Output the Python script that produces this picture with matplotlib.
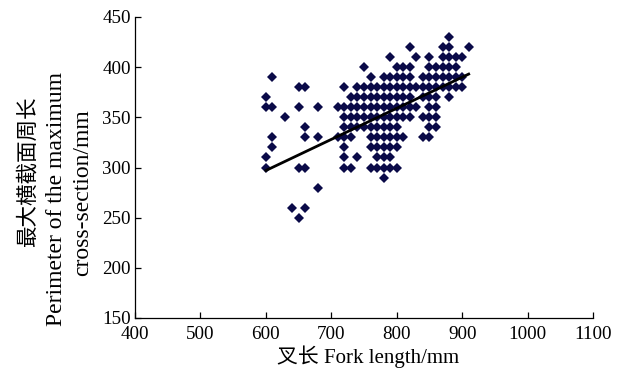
import numpy as np
import matplotlib.pyplot as plt

plt.rcParams['font.family'] = ['Liberation Serif', 'Noto Sans CJK SC']

# perimeter levels (mm) and the fork lengths (mm) observed at each level
perimeter_levels = [430, 420, 410, 400, 390, 380, 370, 360, 350, 340,
                    330, 320, 310, 300, 290, 280, 260, 250]
fork_rows = [
    [880],
    [820, 870, 880, 910],
    [790, 830, 850, 870, 880, 890, 900],
    [750, 800, 810, 820, 850, 860, 870, 880, 890],
    [610, 760, 780, 790, 800, 810, 820, 840, 850, 860, 870, 880, 890, 900],
    [650, 660, 720, 740, 750, 760, 770, 780, 790, 800, 810, 820, 830, 840,
     850, 860, 870, 880, 890, 900],
    [600, 730, 740, 750, 760, 770, 780, 790, 800, 810, 820, 840, 850, 860, 880],
    [600, 610, 650, 680, 710, 720, 730, 740, 750, 760, 770, 780, 790, 800,
     810, 820, 830, 850, 860],
    [630, 720, 730, 740, 750, 760, 770, 780, 790, 800, 810, 820, 840, 850, 860],
    [660, 720, 730, 740, 750, 760, 770, 780, 790, 800, 850, 860],
    [610, 660, 680, 710, 720, 730, 760, 770, 780, 790, 800, 810, 840, 850],
    [610, 720, 760, 770, 780, 790, 800],
    [600, 720, 740, 770, 780, 790],
    [600, 650, 660, 720, 730, 760, 770, 780, 790, 800],
    [780],
    [680],
    [640, 660],
    [650],
]

# fitted line
fit_x = [600, 910]
fit_slope = 0.31
fit_intercept = 111

fork_length = []
perimeter = []
for level, row in zip(perimeter_levels, fork_rows):
    for x in row:
        fork_length.append(x)
        perimeter.append(level)

fig = plt.figure(figsize=(6.3, 3.72), dpi=100)
ax = fig.add_axes([135 / 630, 1 - 318 / 372, 458 / 630, 301 / 372])

ax.plot(fork_length, perimeter, linestyle='none', marker='D', ms=5.6,
        color='#0a0a48', markeredgewidth=0)
fx = np.array(fit_x)
ax.plot(fx, fit_slope * fx + fit_intercept, color='black', lw=2)

ax.set_xlim(400, 1100)
ax.set_ylim(150, 450)
ax.set_xticks(range(400, 1101, 100))
ax.set_yticks(range(150, 451, 50))
ax.spines['top'].set_visible(False)
ax.spines['right'].set_visible(False)
for s in ['left', 'bottom']:
    ax.spines[s].set_linewidth(0.9)
ax.tick_params(direction='in', length=4, width=0.9, labelsize=13.7)
ax.tick_params(axis='x', pad=6)
ax.tick_params(axis='y', pad=3)

fig.text(368 / 630, 1 - 357 / 372, '叉长 Fork length/mm', ha='center',
         va='center', fontsize=15)
fig.text(28 / 630, 1 - 172 / 372, '最大横截面周长', rotation=90,
         ha='center', va='center', fontsize=15.5)
fig.text(57 / 630, 1 - 199 / 372, 'Perimeter of the maximum', rotation=90,
         ha='center', va='center', fontsize=17)
fig.text(83 / 630, 1 - 193 / 372, 'cross-section/mm', rotation=90,
         ha='center', va='center', fontsize=17)

plt.savefig('out.png', dpi=100)
